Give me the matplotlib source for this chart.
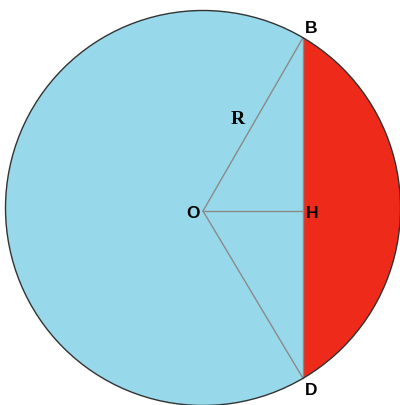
import numpy as np
import matplotlib.pyplot as plt
from matplotlib.patches import Circle, Polygon

# geometry in pixel units (y grows downward)
center = (203.0, 208.0)
radius = 197.5
chord_x = 303.0

# label names and offsets from their points
point_names = ["B", "O", "H", "D"]
label_offsets = [(8, -9), (-10, 2), (9, 2), (8, 12)]

cx, cy = center
d = chord_x - cx
half = np.sqrt(radius**2 - d**2)
B = (chord_x, cy - half)
D = (chord_x, cy + half)
O = (cx, cy + 3)
H = (chord_x, cy + 3)
pts = [B, O, H, D]

fig = plt.figure(figsize=(4.0, 4.05), dpi=100)
ax = fig.add_axes([0, 0, 1, 1])
ax.set_xlim(0, 400)
ax.set_ylim(405, 0)
ax.set_aspect("equal")
ax.axis("off")

ax.add_patch(Circle(center, radius, facecolor="#97d9ea", edgecolor="none", zorder=1))

# red circular segment to the right of the chord
theta = np.arccos(d / radius)
t = np.linspace(-theta, theta, 200)
seg = np.column_stack([cx + radius * np.cos(t), cy + radius * np.sin(t)])
ax.add_patch(Polygon(seg, closed=True, facecolor="#ee2a1a", edgecolor="none", zorder=2))

ax.add_patch(Circle(center, radius, facecolor="none", edgecolor="#333333", lw=1.0, zorder=4))

# radii and chord
gray = "#8a8a8a"
ax.plot([O[0], B[0]], [O[1], B[1]], color=gray, lw=1, zorder=3)
ax.plot([O[0], D[0]], [O[1], D[1]], color=gray, lw=1, zorder=3)
ax.plot([O[0], H[0]], [O[1], H[1]], color=gray, lw=1, zorder=3)
ax.plot([B[0], D[0]], [B[1], D[1]], color=gray, lw=1, zorder=3)

for name, p, off in zip(point_names, pts, label_offsets):
    ax.text(p[0] + off[0], p[1] + off[1], name, fontsize=12.5, fontweight="bold",
            family="Liberation Sans", ha="center", va="center", zorder=5)

ax.text(238, 119, "R", fontsize=14, fontweight="bold", family="Liberation Serif",
        ha="center", va="center", zorder=5)

fig.savefig("out.png", dpi=100, facecolor="white")
